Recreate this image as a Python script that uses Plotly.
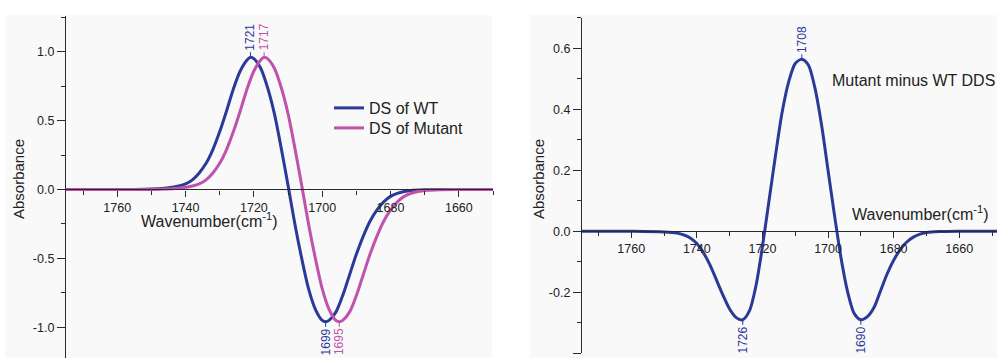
import plotly.graph_objects as go

# ---- Derivative spectra (left panel) ----
wn_wt = [1775, 1760, 1752, 1748, 1745, 1742, 1740, 1738, 1736, 1734, 1732, 1730, 1728, 1726,
         1724, 1722, 1721, 1720, 1718, 1716, 1714, 1712, 1710, 1708, 1706, 1704, 1702, 1700,
         1699, 1698, 1696, 1694, 1692, 1690, 1688, 1686, 1684, 1682, 1680, 1678, 1676, 1674,
         1670, 1665, 1650]
ds_wt = [0, 0, 0.002, 0.006, 0.012, 0.025, 0.04, 0.07, 0.12, 0.19, 0.29, 0.42, 0.57, 0.73,
         0.86, 0.94, 0.96, 0.95, 0.88, 0.74, 0.55, 0.30, 0.03, -0.25, -0.50, -0.72, -0.87, -0.95,
         -0.96, -0.95, -0.89, -0.77, -0.62, -0.47, -0.34, -0.23, -0.15, -0.09, -0.05, -0.028, -0.015, -0.007,
         -0.002, 0, 0]

wn_mut = [1775, 1756, 1748, 1744, 1741, 1738, 1736, 1734, 1732, 1730, 1728, 1726, 1724, 1722,
          1720, 1718, 1717, 1716, 1714, 1712, 1710, 1708, 1706, 1704, 1702, 1700, 1698, 1696,
          1695, 1694, 1692, 1690, 1688, 1686, 1684, 1682, 1680, 1678, 1676, 1674, 1672, 1670,
          1666, 1661, 1650]
ds_mut = [0, 0, 0.002, 0.006, 0.012, 0.025, 0.04, 0.07, 0.12, 0.19, 0.29, 0.42, 0.57, 0.73,
          0.86, 0.94, 0.96, 0.95, 0.88, 0.74, 0.55, 0.30, 0.03, -0.25, -0.50, -0.72, -0.87, -0.95,
          -0.96, -0.95, -0.89, -0.77, -0.62, -0.47, -0.34, -0.23, -0.15, -0.09, -0.05, -0.028, -0.015, -0.007,
          -0.002, 0, 0]

# ---- Double difference spectrum (right panel) ----
wn_dds = [1775, 1760, 1750, 1746, 1744, 1742, 1740, 1738, 1736, 1734, 1732, 1730, 1728, 1726,
          1724, 1722, 1720, 1718, 1716, 1714, 1712, 1710, 1708, 1706, 1704, 1702, 1700, 1698,
          1696, 1694, 1692, 1690, 1688, 1686, 1684, 1682, 1680, 1678, 1676, 1674, 1672, 1670,
          1666, 1660, 1648]
dds = [0, 0, -0.002, -0.006, -0.012, -0.022, -0.04, -0.07, -0.11, -0.16, -0.21, -0.255, -0.283, -0.29,
       -0.262, -0.18, -0.05, 0.10, 0.25, 0.39, 0.49, 0.55, 0.564, 0.545, 0.47, 0.35, 0.20, 0.05,
       -0.09, -0.20, -0.27, -0.29, -0.28, -0.25, -0.195, -0.14, -0.095, -0.06, -0.035, -0.019, -0.009, -0.004,
       -0.001, 0, 0]

x_ticks = [1760, 1740, 1720, 1700, 1680, 1660]
y_ticks_l = [-1.0, -0.5, 0.0, 0.5, 1.0]
y_labels_l = ["-1.0", "-0.5", "0.0", "0.5", "1.0"]
y_ticks_r = [-0.4, -0.2, 0.0, 0.2, 0.4, 0.6]
y_labels_r = ["-0.4", "-0.2", "0.0", "0.2", "0.4", "0.6"]

BLUE = "#2B3A98"
MAGENTA = "#C152AC"
AXIS = "#2a2a2a"
FONT = "Arial, Liberation Sans, sans-serif"

W, H = 997, 358

# subplot geometry (pixel based)
ydom_l = [0, 1 - 16 / H]
yr_l = [-1.2228, 1.259]
ydom_r = [1 - 353.3 / H, 1 - 17.8 / H]
yr_r = [-0.4, 0.7]


def zero_pos(dom, rng):
    return dom[0] + (0 - rng[0]) / (rng[1] - rng[0]) * (dom[1] - dom[0])


fig = go.Figure()
fig.add_trace(go.Scatter(x=wn_wt, y=ds_wt, mode="lines", name="DS of WT",
                         line=dict(color=BLUE, width=3, shape="spline", smoothing=0.8),
                         xaxis="x", yaxis="y", legend="legend"))
fig.add_trace(go.Scatter(x=wn_mut, y=ds_mut, mode="lines", name="DS of Mutant",
                         line=dict(color=MAGENTA, width=3, shape="spline", smoothing=0.8),
                         xaxis="x", yaxis="y", legend="legend2"))
fig.add_trace(go.Scatter(x=wn_dds, y=dds, mode="lines", name="Mutant minus WT DDS",
                         line=dict(color=BLUE, width=3, shape="spline", smoothing=0.8),
                         xaxis="x2", yaxis="y2", showlegend=False))

axis_common = dict(showline=True, linecolor=AXIS, linewidth=1.3, showgrid=False, zeroline=False,
                   ticks="outside", tickcolor=AXIS, tickwidth=1.2,
                   tickfont=dict(family=FONT, size=12.5, color="#222"))

legend_common = dict(x=329 / W, xanchor="left", yanchor="top", bgcolor="rgba(0,0,0,0)",
                     font=dict(family=FONT, size=16, color="#222"))

fig.update_layout(
    width=W, height=H,
    margin=dict(l=0, r=0, t=0, b=0, pad=0),
    paper_bgcolor="white",
    plot_bgcolor="rgba(0,0,0,0)",
    font=dict(family=FONT, color="#222"),
    xaxis=dict(domain=[66 / W, 493 / W], range=[1775, 1650], anchor="free",
               position=zero_pos(ydom_l, yr_l), tickvals=x_ticks, ticklen=6,
               minor=dict(ticks="outside", ticklen=4, dtick=10, tick0=1650, tickcolor=AXIS),
               **axis_common),
    yaxis=dict(domain=ydom_l, range=yr_l, anchor="x", tickvals=y_ticks_l, ticktext=y_labels_l,
               ticklen=8, minor=dict(ticks="outside", ticklen=4, dtick=0.25, tick0=0, tickcolor=AXIS),
               **axis_common),
    xaxis2=dict(domain=[582 / W, 1.0], range=[1775, 1648.5], anchor="free",
                position=zero_pos(ydom_r, yr_r), tickvals=x_ticks, ticklen=6,
                minor=dict(ticks="outside", ticklen=4, dtick=10, tick0=1650, tickcolor=AXIS),
                **axis_common),
    yaxis2=dict(domain=ydom_r, range=yr_r, anchor="x2", tickvals=y_ticks_r, ticktext=y_labels_r,
                ticklen=8, minor=dict(ticks="outside", ticklen=4, dtick=0.1, tick0=0, tickcolor=AXIS),
                **axis_common),
    legend=dict(y=1 - 91 / H, **legend_common),
    legend2=dict(y=1 - 111 / H, **legend_common),
    showlegend=True,
)

# faint panel backgrounds
for x0, x1 in [(5 / W, 492 / W), (530 / W, 1.0)]:
    fig.add_shape(type="rect", xref="paper", yref="paper", x0=x0, x1=x1, y0=0, y1=1 - 15 / H,
                  fillcolor="#f9f9f9", line=dict(width=0), layer="below")

# axis titles
title_font = dict(family=FONT, size=15, color="#222")
for xp in [18 / W, 538 / W]:
    fig.add_annotation(text="Absorbance", xref="paper", yref="paper", x=xp, y=1 - 179 / H,
                       xanchor="center", yanchor="middle",
                       textangle=-90, showarrow=False, font=title_font)
wn_font = dict(family=FONT, size=16, color="#222")
fig.add_annotation(text="Wavenumber(cm<sup>-1</sup>)", xref="paper", yref="paper",
                   x=209.5 / W, y=1 - 220 / H, xanchor="center", yanchor="middle",
                   showarrow=False, font=wn_font)
fig.add_annotation(text="Wavenumber(cm<sup>-1</sup>)", xref="paper", yref="paper",
                   x=920 / W, y=1 - 213 / H, xanchor="center", yanchor="middle",
                   showarrow=False, font=wn_font)
fig.add_annotation(text="Mutant minus WT DDS", xref="paper", yref="paper",
                   x=913 / W, y=1 - 80 / H, xanchor="center", yanchor="middle",
                   showarrow=False, font=wn_font)


def mark(px, py, color, xref, yref, up):
    fig.add_annotation(x=px, y=py, xref=xref, yref=yref, text=str(px), textangle=-90,
                       showarrow=True, arrowhead=0, arrowwidth=1, arrowcolor=color,
                       ax=0, ay=-20 if up else 20,
                       font=dict(family=FONT, size=12, color=color))


# peak / trough position labels taken from the data
for xs, ys, color in [(wn_wt, ds_wt, BLUE), (wn_mut, ds_mut, MAGENTA)]:
    pts = list(zip(xs, ys))
    mark(*max(pts, key=lambda p: p[1]), color, "x", "y", True)
    mark(*min(pts, key=lambda p: p[1]), color, "x", "y", False)

dds_pts = list(zip(wn_dds, dds))
mark(*max(dds_pts, key=lambda p: p[1]), BLUE, "x2", "y2", True)
mark(*min([p for p in dds_pts if p[0] > 1708], key=lambda p: p[1]), BLUE, "x2", "y2", False)
mark(*min([p for p in dds_pts if p[0] < 1708], key=lambda p: p[1]), BLUE, "x2", "y2", False)

fig.write_html("out.html")
